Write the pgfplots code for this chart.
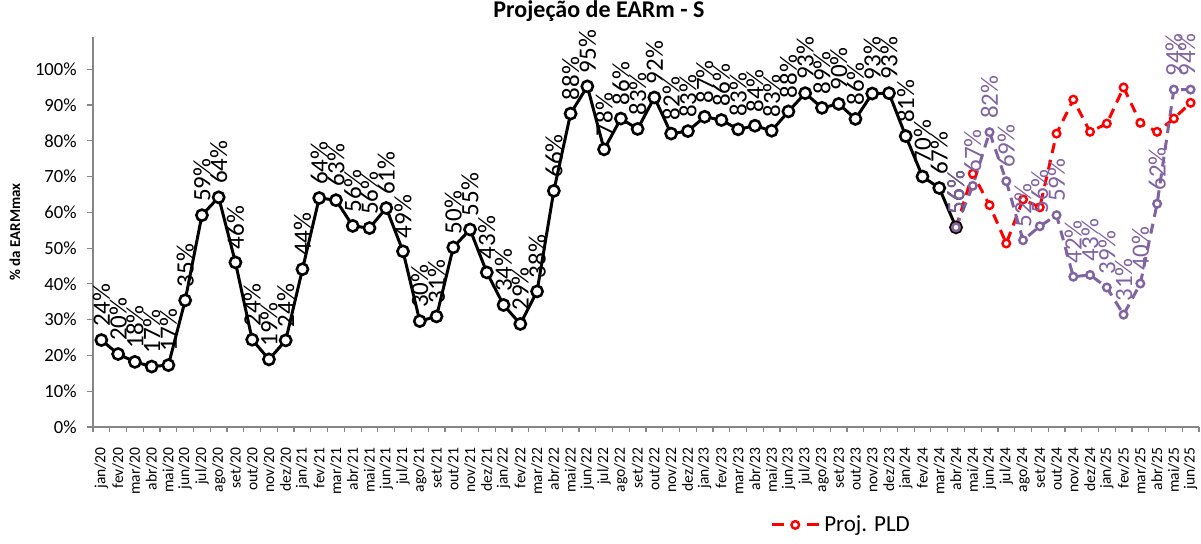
\documentclass[border=0pt]{standalone}
\usepackage{pgfplots}
\pgfplotsset{compat=1.18}
\usepackage{fontspec}
\setmainfont{Carlito}
\definecolor{purp}{RGB}{128,100,162}
\definecolor{axgray}{RGB}{134,134,134}
\begin{document}
\begin{tikzpicture}
\begin{axis}[
  at={(0pt,0pt)}, anchor=south west,
  scale only axis, width=553pt, height=195pt,
  xmin=-0.5, xmax=65.5, ymin=0, ymax=109,
  axis x line*=bottom, axis y line*=left,
  axis line style={axgray, line width=0.6pt},
  clip=false,
  tick align=outside,
  /pgf/number format/assume math mode=true,
  xtick={0,...,65},
  major x tick style={draw=none},
  minor xtick={-0.5,0.5,...,65.5},
  minor x tick style={axgray, line width=0.6pt},
  minor tick length=2.5pt,
  xticklabels={jan/20,fev/20,mar/20,abr/20,mai/20,jun/20,jul/20,ago/20,set/20,out/20,nov/20,dez/20,
  jan/21,fev/21,mar/21,abr/21,mai/21,jun/21,jul/21,ago/21,set/21,out/21,nov/21,dez/21,
  jan/22,fev/22,mar/22,abr/22,mai/22,jun/22,jul/22,ago/22,set/22,out/22,nov/22,dez/22,
  jan/23,fev/23,mar/23,abr/23,mai/23,jun/23,jul/23,ago/23,set/23,out/23,nov/23,dez/23,
  jan/24,fev/24,mar/24,abr/24,mai/24,jun/24,jul/24,ago/24,set/24,out/24,nov/24,dez/24,
  jan/25,fev/25,mar/25,abr/25,mai/25,jun/25},
  xticklabel style={rotate=90, anchor=east, inner sep=0pt, font=\fontsize{7.8}{8}\selectfont},
  xticklabel shift=7pt,
  ytick={0,10,...,100},
  yticklabels={0\%,10\%,20\%,30\%,40\%,50\%,60\%,70\%,80\%,90\%,100\%},
  major y tick style={axgray, line width=0.6pt},
  major tick length=3pt,
  yticklabel style={anchor=east, inner sep=0pt, font=\fontsize{9.3}{10}\selectfont},
  yticklabel shift=5pt,
  ylabel={\textbf{\% da EARMmax}},
  ylabel style={at={(axis description cs:-0.0705,0.5)}, anchor=center, rotate=0, font=\fontsize{7.5}{8}\selectfont},
  legend style={at={(axis description cs:0.612,-0.251)}, anchor=west, draw=none, fill=none,
    font=\fontsize{11.5}{12}\selectfont, inner sep=0pt},
  legend image code/.code={\draw[mark repeat=2,mark phase=2,#1,dash pattern=on 6pt off 11.5pt] plot coordinates {(0pt,0pt)(11.75pt,0pt)(23.5pt,0pt)};},
  every node near coord/.style={rotate=90, anchor=west, inner xsep=6pt, inner ysep=0pt, font=\fontsize{12.5}{13}\selectfont},
]
% historical EARm
\addplot[black, line width=1.5pt, mark=*, mark size=2.8pt,
  mark options={fill=white, draw=black, line width=1.3pt, solid},
  nodes near coords={\pgfmathprintnumber[fixed,precision=0,assume math mode=true]{\pgfplotspointmeta}\%},
  nodes near coords style={black}, forget plot]
coordinates {
(0,24.3)(1,20.4)(2,18.2)(3,16.9)(4,17.3)(5,35.4)(6,59.2)(7,64.2)(8,46.0)(9,24.4)(10,18.9)(11,24.2)
(12,44.1)(13,64.0)(14,63.4)(15,56.2)(16,55.6)(17,61.2)(18,49.1)(19,29.6)(20,30.9)(21,50.2)(22,55.2)(23,43.2)
(24,34.1)(25,28.8)(26,37.9)(27,66.0)(28,87.6)(29,95.2)(30,77.6)(31,86.2)(32,83.3)(33,92.1)(34,82.0)(35,82.7)
(36,86.7)(37,85.8)(38,83.2)(39,84.2)(40,82.8)(41,88.2)(42,93.3)(43,89.2)(44,90.3)(45,86.1)(46,93.2)(47,93.3)
(48,81.3)(49,70.0)(50,66.8)(51,55.8)
};
% Proj. PLD (red)
\addplot[red, line width=1.5pt, dash pattern=on 5pt off 3.5pt, mark=*, mark size=1.9pt,
  mark options={fill=white, draw=red, line width=1.2pt, solid}]
coordinates {
(51,55.8)(52,70.8)(53,62.0)(54,51.3)(55,63.6)(56,61.4)(57,82.0)(58,91.5)(59,82.5)(60,84.8)(61,94.9)(62,85.0)(63,82.5)(64,86.2)(65,90.6)
};
\addlegendentry{Proj. PLD}
% purple projection
\addplot[purp, line width=1.5pt, dash pattern=on 5pt off 3.5pt, mark=*, mark size=1.9pt,
  mark options={fill=white, draw=purp, line width=1.2pt, solid},
  visualization depends on={\thisrow{sh}\as\lsh},
  nodes near coords={\pgfmathprintnumber[fixed,precision=0,assume math mode=true]{\pgfplotspointmeta}\%},
  nodes near coords style={purp, yshift=\lsh pt}, forget plot]
table[x=x, y=y] {
x y sh
51 55.8 0
52 67.4 0
53 82.4 0
54 68.7 0
55 52.2 0
56 56.1 0
57 59.2 0
58 42.0 0
59 42.5 0
60 39.0 0
61 31.4 0
62 40.1 0
63 62.4 0
64 94.3 0
65 94.3 2
};
\end{axis}
\node[anchor=north, inner sep=0pt, font=\bfseries\fontsize{12}{13}\selectfont] at (253pt,213.5pt) {Projeção de EARm - S};
\pgfresetboundingbox
\useasboundingbox (-46.5pt,-58pt) rectangle (554pt,213.5pt);
\end{tikzpicture}
\end{document}
